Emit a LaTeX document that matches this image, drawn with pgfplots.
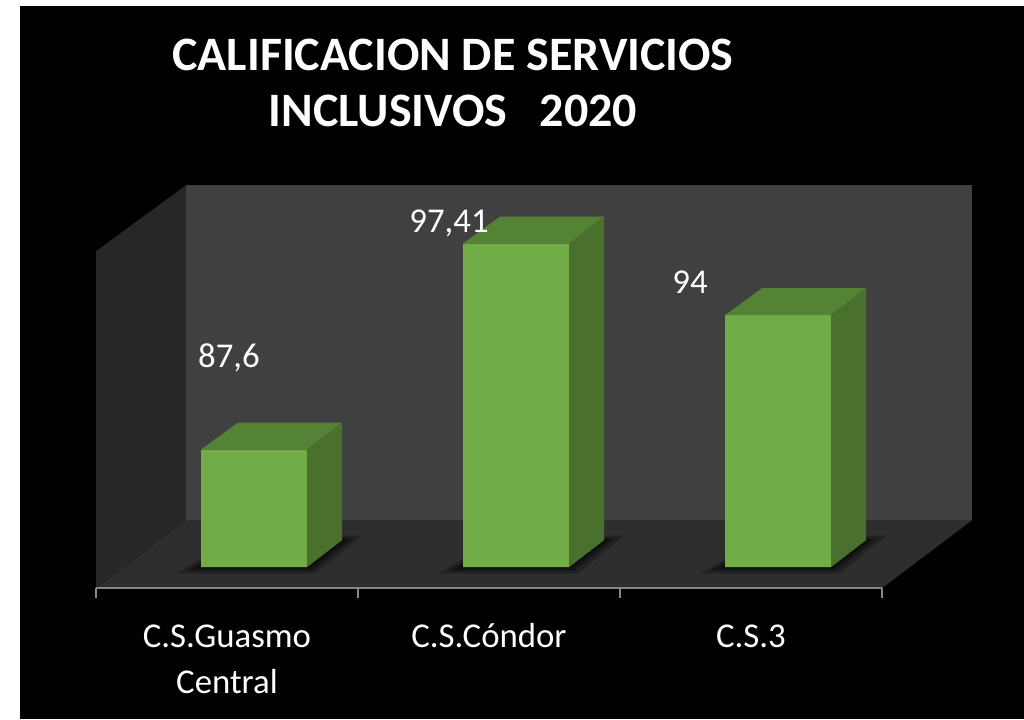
\documentclass[border=0pt]{standalone}
\usepackage{pgfplots}
\pgfplotsset{compat=1.18}
\usepackage{pgfplotstable}
\usepackage{fontspec}
\setmainfont{Carlito}
\definecolor{bgwall}{RGB}{64,64,64}
\definecolor{sidewall}{RGB}{39,39,39}
\definecolor{floorc}{RGB}{46,46,46}
\definecolor{gfront}{RGB}{112,173,71}
\definecolor{gtop}{RGB}{85,131,54}
\definecolor{gside}{RGB}{74,112,45}
\definecolor{edgegray}{RGB}{134,134,134}
% x = bar centre (px scale), v = rating
\pgfplotstableread{
x v
254 87.6
516 97.41
778 94
}\datatable
\begin{document}
\begin{tikzpicture}
\begin{axis}[
  width=512pt, height=359.5pt, scale only axis,
  xmin=0, xmax=1024, ymin=-7.238, ymax=27,
  clip=false,
  axis background/.style={fill=black},
  axis line style={draw=none},
  major tick length=0pt,
  ytick=\empty,
  xtick={227,489,751},
  xticklabels={{C.S.Guasmo\\Central},{C.S.Cóndor\\\mbox{}},{C.S.3\\\mbox{}}},
  xticklabel style={anchor=base, yshift=13pt, align=center, text=white,
    font=\fontsize{17.4}{23}\selectfont},
]
% white margins
\fill[white] (axis cs:0,-7.238) rectangle (axis cs:20,27);
\fill[white] (axis cs:0,26.714) rectangle (axis cs:1024,27);
% walls and floor
\fill[bgwall] (axis cs:186,2.238) rectangle (axis cs:972,18.190);
\fill[sidewall] (axis cs:96,-1) -- (axis cs:96,15.048) -- (axis cs:186,18.190) -- (axis cs:186,2.238) -- cycle;
\fill[floorc] (axis cs:96,-1) -- (axis cs:882,-1) -- (axis cs:972,2.238) -- (axis cs:186,2.238) -- cycle;
\draw[edgegray, line width=1pt] (axis cs:96,-1) -- (axis cs:882,-1);
\foreach \t in {96,358,620,882}{
  \edef\tmp{\noexpand\draw[edgegray, line width=0.6pt] (axis cs:\t,-1) -- (axis cs:\t,-1.476);}\tmp
}
% shadows
\foreach \c in {254,516,778}{
  \edef\tmp{\noexpand\fill[black, opacity=0.25] (axis cs:\c-78,-0.3) -- (axis cs:\c+62,-0.3) -- (axis cs:\c+108,1.5) -- (axis cs:\c-12,1.5) -- cycle;
  \noexpand\fill[black, opacity=0.3] (axis cs:\c-68,-0.18) -- (axis cs:\c+58,-0.18) -- (axis cs:\c+100,1.4) -- (axis cs:\c-14,1.4) -- cycle;
  \noexpand\fill[black, opacity=0.35] (axis cs:\c-60,-0.08) -- (axis cs:\c+55,-0.08) -- (axis cs:\c+94,1.33) -- (axis cs:\c-15,1.33) -- cycle;}\tmp
}
% bar fronts from the data
\addplot[ybar, bar width=106, fill=gfront, draw=none] table[x=x, y expr=\thisrow{v}-82] {\datatable};
% bar tops
\addplot[fill=gtop, draw=none] coordinates {(201,5.6) (238,6.886) (342,6.886) (307,5.6)} -- cycle;
\addplot[fill=gtop, draw=none] coordinates {(463,15.41) (500,16.696) (604,16.696) (569,15.41)} -- cycle;
\addplot[fill=gtop, draw=none] coordinates {(725,12) (762,13.286) (866,13.286) (831,12)} -- cycle;
% bar sides
\addplot[fill=gside, draw=none] coordinates {(307,0) (307,5.6) (342,6.886) (342,1.286)} -- cycle;
\addplot[fill=gside, draw=none] coordinates {(569,0) (569,15.41) (604,16.696) (604,1.286)} -- cycle;
\addplot[fill=gside, draw=none] coordinates {(831,0) (831,12) (866,13.286) (866,1.286)} -- cycle;
% value labels
\node[anchor=base, text=white, font=\fontsize{17.4}{21}\selectfont] at (axis cs:229,9.524) {87,6};
\node[anchor=base, text=white, font=\fontsize{17.4}{21}\selectfont] at (axis cs:449,15.952) {97,41};
\node[anchor=base, text=white, font=\fontsize{17.4}{21}\selectfont] at (axis cs:690,13.048) {94};
% title
\node[anchor=base, text=white, font=\bfseries\fontsize{24}{28}\selectfont] at (axis cs:453,23.667) {CALIFICACION DE SERVICIOS};
\node[anchor=base, text=white, font=\bfseries\fontsize{24}{28}\selectfont] at (axis cs:453,21.0) {INCLUSIVOS\ \ \ 2020};
\end{axis}
\end{tikzpicture}
\end{document}
